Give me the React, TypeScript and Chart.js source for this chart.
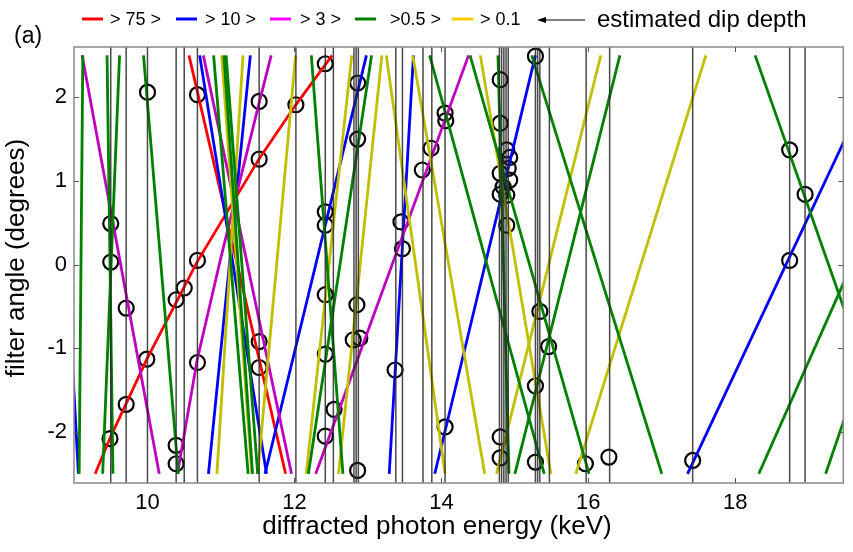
import React, { useEffect, useRef } from "react";
import { Chart, registerables } from "chart.js";

Chart.register(...registerables);

const FONT = "'Liberation Sans', Arial, sans-serif";

// axis ranges / ticks
const X_MIN = 9;
const X_MAX = 19.47;
const Y_MIN = -2.61;
const Y_MAX = 2.6;
const xTicks = [10, 12, 14, 16, 18];
const yTicks = [-2, -1, 0, 1, 2];

// every straight line is [x at angle +2.5, x at angle -2.5]
const LINE_TOP = 2.5;
const LINE_BOTTOM = -2.5;

const redLines = [[10.565, 11.88]];
const redCurve = [
  [9.288, -2.5], [9.489, -2.077], [9.99, -1.133], [10.676, 0.033],
  [11.523, 1.269], [12.016, 1.906], [12.513, 2.5],
];
const blueLines = [
  [8.75, 9.06], [10.71, 11.62], [11.4, 10.83], [12.98, 11.6],
  [13.62, 13.29], [15.28, 13.91], [20.03, 17.35],
];
const magentaLines = [[9.11, 10.16], [10.76, 11.96], [14.37, 12.29]];
const magentaCurve = [
  [10.408, -2.5], [10.676, -1.14], [10.99, 0.05], [11.523, 1.945], [11.684, 2.5],
];
const greenLines = [
  [9.12, 9.07], [9.45, 9.53], [9.62, 9.39], [9.946, 10.42],
  [10.9, 11.37], [11.04, 11.43], [11.07, 11.5],
  [12.23, 12.66], [13.05, 12.19], [13.84, 15.4], [14.39, 16.01],
  [14.77, 14.92], [15.23, 17.0], [16.43, 15.0],
  [18.27, 20.27], [20.85, 18.32], [21.17, 19.23],
];
const yellowLines = [
  [11.3, 10.945], [11.01, 11.42], [12.016, 11.5], [12.78, 12.16],
  [13.19, 12.6], [13.25, 14.05], [13.61, 14.59], [14.53, 15.49],
  [16.17, 14.75], [17.6, 15.83],
];

// estimated line positions (vertical markers)
const markerEnergies = [
  9.5, 9.71, 10.0, 10.39, 10.5, 10.68, 11.52, 12.02, 12.42, 12.53, 12.81, 12.84,
  12.87, 13.38, 13.47, 13.75, 13.87, 14.05, 14.79, 14.82, 14.85, 14.88, 14.91,
  15.28, 15.31, 15.34, 15.47, 15.97, 16.29, 17.42, 18.74, 18.95,
];

// circled intersections
const circleX = [
  10.0, 10.68, 11.52, 11.52, 12.02, 9.5, 9.5, 10.68,
  9.71, 9.99, 10.68, 10.5, 10.39, 11.52, 11.52, 9.71, 9.49, 10.39, 10.39,
  12.42, 12.86, 12.86, 12.42, 12.42, 13.45, 13.47, 13.86, 13.74, 14.05, 14.06, 14.8, 14.8,
  14.89, 14.93, 14.91, 14.8, 14.93, 14.84, 14.8, 14.89, 14.89, 15.28,
  12.42, 12.85, 12.8, 12.89, 12.42, 13.37, 12.54, 12.42, 12.86, 14.05, 14.8, 14.8,
  15.34, 15.46, 15.28, 15.28, 15.96, 16.28, 17.42,
  18.74, 18.95, 18.74,
];
const circleY = [
  2.06, 2.03, 1.95, 1.26, 1.91, 0.49, 0.03, 0.05,
  -0.52, -1.13, -1.17, -0.28, -0.42, -0.92, -1.23, -1.67, -2.08, -2.16, -2.38,
  2.4, 2.17, 1.5, 0.63, 0.47, 0.51, 0.19, 1.39, 1.13, 1.81, 1.72, 2.21, 1.69,
  1.37, 1.28, 1.15, 1.09, 1.01, 0.93, 0.84, 0.83, 0.47, 2.49,
  -0.36, -0.48, -0.9, -0.88, -1.07, -1.26, -1.73, -2.05, -2.46, -1.94, -2.06, -2.31,
  -0.56, -0.98, -1.45, -2.36, -2.38, -2.3, -2.34,
  1.37, 0.84, 0.05,
];

const legendLabels = ["> 75 >", "> 10 >", "> 3 >", ">0.5 >", "> 0.1"];
const legendColors = ["#ff0000", "#0000ff", "#ff00ff", "#008000", "#ffc800"];

const COLORS = {
  red: "#ff0000",
  blue: "#0000ff",
  magenta: "#bf00bf",
  green: "#008000",
  yellow: "#c0c000",
};

function straight(pairs: number[][], color: string) {
  return pairs.map((p) => ({
    type: "scatter" as const,
    data: [
      { x: p[0], y: LINE_TOP },
      { x: p[1], y: LINE_BOTTOM },
    ],
    showLine: true,
    borderColor: color,
    backgroundColor: color,
    borderWidth: 2.8,
    pointRadius: 0,
  }));
}

function curve(pts: number[][], color: string) {
  return {
    type: "scatter" as const,
    data: pts.map((p) => ({ x: p[0], y: p[1] })),
    showLine: true,
    borderColor: color,
    backgroundColor: color,
    borderWidth: 2.8,
    pointRadius: 0,
  };
}

const decorPlugin = {
  id: "decor",
  afterDraw(chart: any) {
    const { ctx, chartArea: a, scales } = chart;
    const xs = scales.x;
    const ys = scales.y;
    ctx.save();
    // frame
    ctx.strokeStyle = "#8a8a8a";
    ctx.lineWidth = 1.5;
    ctx.strokeRect(a.left, a.top, a.right - a.left, a.bottom - a.top);
    // inward ticks on all sides
    ctx.strokeStyle = "#555";
    ctx.lineWidth = 1;
    ctx.beginPath();
    xTicks.forEach((v) => {
      const px = Math.round(xs.getPixelForValue(v)) + 0.5;
      ctx.moveTo(px, a.bottom);
      ctx.lineTo(px, a.bottom - 5);
      ctx.moveTo(px, a.top);
      ctx.lineTo(px, a.top + 5);
    });
    yTicks.forEach((v) => {
      const py = Math.round(ys.getPixelForValue(v)) + 0.5;
      ctx.moveTo(a.left, py);
      ctx.lineTo(a.left + 5, py);
      ctx.moveTo(a.right, py);
      ctx.lineTo(a.right - 5, py);
    });
    ctx.stroke();

    // axis titles
    ctx.fillStyle = "#000";
    ctx.font = `26px ${FONT}`;
    ctx.textAlign = "center";
    ctx.textBaseline = "middle";
    ctx.fillText("diffracted photon energy (keV)", 437, 527);
    ctx.save();
    ctx.translate(17, 258);
    ctx.rotate(-Math.PI / 2);
    ctx.fillText("filter angle (degrees)", 0, 0);
    ctx.restore();

    // panel label
    ctx.textAlign = "left";
    ctx.textBaseline = "alphabetic";
    ctx.font = `23px ${FONT}`;
    ctx.fillText("(a)", 14, 43);

    // legend
    const lineStarts = [82, 176, 270, 355, 452];
    const textStarts = [110, 205, 300, 390, 480];
    ctx.font = `18px ${FONT}`;
    ctx.textBaseline = "middle";
    const ly = 19;
    legendLabels.forEach((lab, i) => {
      ctx.strokeStyle = legendColors[i];
      ctx.lineWidth = 3;
      ctx.beginPath();
      ctx.moveTo(lineStarts[i], ly);
      ctx.lineTo(lineStarts[i] + 21, ly);
      ctx.stroke();
      ctx.fillStyle = "#000";
      ctx.fillText(lab, textStarts[i], ly + 1);
    });
    // arrow
    ctx.strokeStyle = "#000";
    ctx.lineWidth = 1.2;
    ctx.beginPath();
    ctx.moveTo(585, ly + 1);
    ctx.lineTo(542, ly + 1);
    ctx.stroke();
    ctx.fillStyle = "#000";
    ctx.beginPath();
    ctx.moveTo(537, ly + 1);
    ctx.lineTo(546, ly - 2);
    ctx.lineTo(546, ly + 4);
    ctx.closePath();
    ctx.fill();
    ctx.font = `24px ${FONT}`;
    ctx.fillText("estimated dip depth", 597, ly + 1);
    ctx.restore();
  },
};

export default function App() {
  const ref = useRef<HTMLCanvasElement | null>(null);

  useEffect(() => {
    if (!ref.current) return;
    const verticals = markerEnergies.map((e) => ({
      type: "scatter" as const,
      data: [
        { x: e, y: Y_MIN },
        { x: e, y: Y_MAX },
      ],
      showLine: true,
      borderColor: "rgba(40,40,40,0.85)",
      borderWidth: 1.5,
      pointRadius: 0,
    }));
    const circles = {
      type: "scatter" as const,
      data: circleX.map((x, i) => ({ x, y: circleY[i] })),
      showLine: false,
      pointStyle: "circle",
      pointRadius: 7.5,
      borderColor: "#000",
      borderWidth: 2.2,
      backgroundColor: "rgba(0,0,0,0)",
    };
    const datasets: any[] = [
      ...verticals,
      ...straight(greenLines, COLORS.green),
      ...straight(yellowLines, COLORS.yellow),
      ...straight(magentaLines, COLORS.magenta),
      curve(magentaCurve, COLORS.magenta),
      ...straight(blueLines, COLORS.blue),
      ...straight(redLines, COLORS.red),
      curve(redCurve, COLORS.red),
      circles,
    ];

    const chart = new Chart(ref.current, {
      type: "scatter",
      data: { datasets },
      options: {
        animation: false,
        responsive: false,
        events: [],
        layout: { padding: { top: 47, left: 0, right: 0, bottom: 0 } },
        plugins: { legend: { display: false }, tooltip: { enabled: false } },
        scales: {
          x: {
            type: "linear",
            min: X_MIN,
            max: X_MAX,
            grid: { display: false, drawTicks: false },
            border: { display: false },
            ticks: { font: { size: 22, family: FONT }, color: "#000", padding: 7 },
            afterBuildTicks: (s: any) => {
              s.ticks = xTicks.map((v) => ({ value: v }));
            },
            afterFit: (s: any) => {
              s.height = 69;
            },
          },
          y: {
            type: "linear",
            min: Y_MIN,
            max: Y_MAX,
            grid: { display: false, drawTicks: false },
            border: { display: false },
            ticks: { font: { size: 22, family: FONT }, color: "#000", padding: 7 },
            afterBuildTicks: (s: any) => {
              s.ticks = yTicks.map((v) => ({ value: v }));
            },
            afterFit: (s: any) => {
              s.width = 74;
            },
          },
        },
      },
      plugins: [decorPlugin],
    });
    return () => chart.destroy();
  }, []);

  return (
    <div style={{ position: "absolute", left: 0, top: 0, width: 853, height: 552, background: "#fff" }}>
      <canvas ref={ref} width={853} height={552} style={{ display: "block", width: 853, height: 552 }} />
    </div>
  );
}
